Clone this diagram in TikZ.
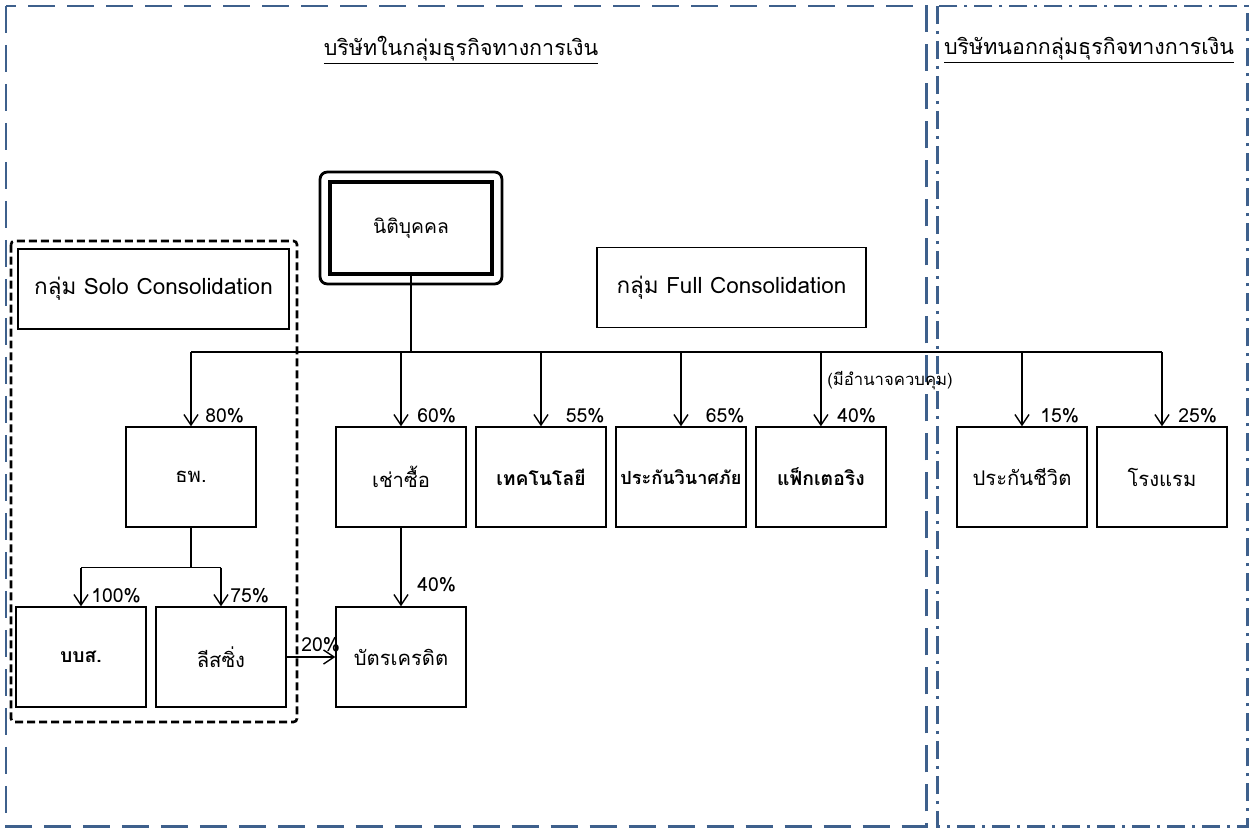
\documentclass[tikz,border=0pt]{standalone}
\usepackage{fontspec}
\setmainfont[Script=Thai]{Loma}
\usetikzlibrary{arrows.meta, positioning, calc}
\definecolor{colFrame}{RGB}{62,96,140}
\definecolor{colBorder}{RGB}{0,0,0}
\tikzset{
  entBox/.style={
    rectangle, draw=colBorder, line width=0.8pt,
    minimum width=2.6cm, minimum height=2cm,
    inner xsep=0pt, inner ysep=2pt, align=center,
    font=\fontsize{11.5}{13}\selectfont
  },
  keyBox/.style={
    entBox, font=\fontsize{11}{13}\selectfont\bfseries
  },
  groupBox/.style={
    rectangle, draw=colBorder, line width=0.8pt,
    minimum height=1.6cm, font=\fontsize{12.8}{15}\selectfont
  },
  rootBox/.style={
    rectangle, draw=colBorder, line width=2.2pt,
    minimum width=3.24cm, minimum height=1.84cm,
    font=\fontsize{11}{13}\selectfont
  },
  arr/.style={
    -{Straight Barb[length=6pt,width=8pt]}, line width=0.8pt
  },
  link/.style={line width=0.8pt},
  pct/.style={font=\fontsize{11}{13}\selectfont, inner sep=0pt},
  heading/.style={font=\fontsize{12.2}{14}\selectfont, inner sep=1pt},
  frameIn/.style={
    draw=colFrame, line width=1.7pt,
    dash pattern=on 0.54cm off 0.24cm
  },
  frameOut/.style={
    draw=colFrame, line width=1.7pt,
    dash pattern=on 0.36cm off 0.14cm on 0.06cm off 0.14cm
  },
  soloFrame/.style={
    draw=black, line width=1.5pt, rounded corners=2pt,
    dash pattern=on 0.16cm off 0.08cm
  }
}

\begin{document}
\begin{tikzpicture}[x=0.02cm, y=-0.02cm, node distance=0.172cm]

  \useasboundingbox (0,0) rectangle (1256,828);

  % outer frames
  \draw[frameIn] (6,6) rectangle (926,826);
  \draw[frameOut] (937,6) rectangle (1247,826);

  \node[heading] (finTitle) at (461,50) {\underline{บริษัทในกลุ่มธุรกิจทางการเงิน}};
  \node[heading] (nonTitle) at (1089,50) {\underline{บริษัทนอกกลุ่มธุรกิจทางการเงิน}};

  % parent
  \node[rootBox] (root) at (411,228) {นิติบุคคล};
  \draw[line width=1.6pt, rounded corners=4pt]
    ($(root.north west)+(-8,-8)$) rectangle ($(root.south east)+(8,8)$);

  % groups
  \draw[soloFrame] (11,241) rectangle (297,722);
  \node[groupBox, minimum width=5.42cm] (soloKey) at (153.5,289) {กลุ่ม Solo Consolidation};
  \node[groupBox, minimum width=5.38cm] (fullKey) at (731.5,287.5) {กลุ่ม Full Consolidation};

  % first level
  \node[entBox] (bank) at (191,477) {ธพ.};
  \node[entBox] (lease) at (401,477) {เช่าซื้อ};
  \node[keyBox, right=of lease] (tech) {เทคโนโลยี};
  \node[keyBox, right=of tech, font=\fontsize{10.3}{13}\selectfont\bfseries] (nonlife) {ประกันวินาศภัย};
  \node[keyBox, right=of nonlife] (factor) {แฟ็กเตอริง};
  \node[entBox] (life) at (1022,477) {ประกันชีวิต};
  \node[entBox, right=of life] (hotel) {โรงแรม};

  % second level
  \node[keyBox] (amc) at (81,657) {บบส.};
  \node[entBox, right=of amc] (leasing) {ลีสซิ่ง};
  \node[entBox] (card) at (401,657) {บัตรเครดิต};

  % bus from parent
  \coordinate (bus) at (411,352);
  \draw[link] (root.south) -- (bus);
  \draw[link] (bank.north |- bus) -- (hotel.north |- bus);
  \foreach \n in {bank, lease, tech, nonlife, factor, life, hotel}
    \draw[arr] (\n.north |- bus) -- (\n.north);

  % bank subsidiaries
  \draw[link] (bank.south) -- ++(0,40) coordinate (fork);
  \draw[link] (amc.north |- fork) -- (leasing.north |- fork);
  \foreach \n in {amc, leasing}
    \draw[arr] (\n.north |- fork) -- (\n.north);

  \draw[arr] (lease.south) -- (card.north);
  \draw[arr] (leasing.east) -- (card.west);

  % shares
  \node[pct, anchor=west] (pBank) at (205,416) {80\%};
  \node[pct, anchor=west] (pLease) at (417,416) {60\%};
  \node[pct, anchor=east] (pTech) at (605,416) {55\%};
  \node[pct, anchor=east] (pNonlife) at (745,416) {65\%};
  \node[pct, anchor=west] (pFactor) at (837,416) {40\%};
  \node[pct, anchor=west] (pLife) at (1040,416) {15\%};
  \node[pct, anchor=west] (pHotel) at (1178,416) {25\%};
  \node[pct, anchor=west] (pAmc) at (91,596) {100\%};
  \node[pct, anchor=west] (pLeasing) at (230,596) {75\%};
  \node[pct, anchor=west] (pCard) at (417,585) {40\%};
  \node[pct, anchor=west] (pCross) at (301,645) {20\%};
  \node[pct, font=\fontsize{9.5}{11}\selectfont] (control) at (890,381) {(มีอำนาจควบคุม)};

\end{tikzpicture}
\end{document}
